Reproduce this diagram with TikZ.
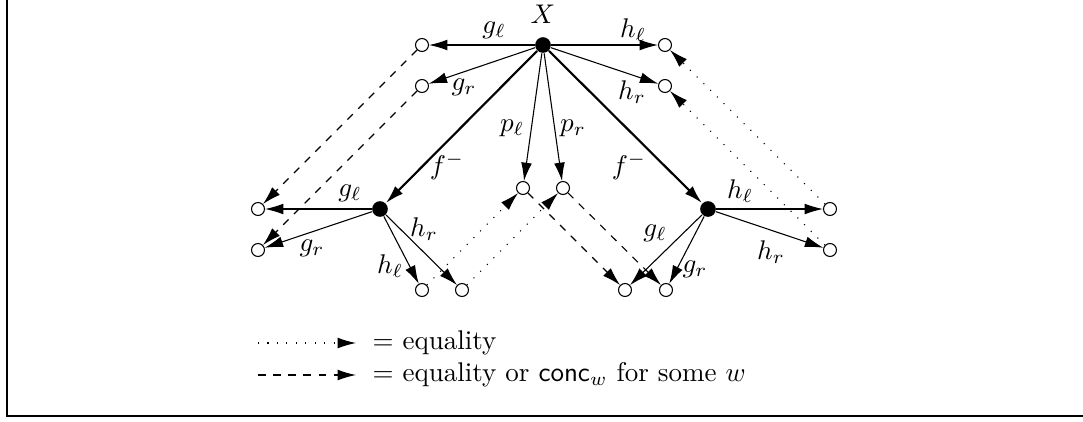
\documentclass[tikz,border=0pt]{standalone}
\usetikzlibrary{arrows.meta}
\begin{document}
\begin{tikzpicture}[x=0.37pt,y=-0.37pt,
  >={Latex[length=6.8pt,width=4pt]},
  opn/.style={circle,draw,line width=0.4pt,inner sep=0pt,minimum size=4.8pt},
  full/.style={circle,fill,inner sep=0pt,minimum size=5.8pt},
  arr/.style={->,line width=0.4pt},
  thk/.style={->,line width=0.8pt},
  eqarr/.style={->,line width=0.4pt,dash pattern=on 0.4pt off 3.1pt},
  dsharr/.style={->,line width=0.4pt,dash pattern=on 2.8pt off 2.8pt},
  lab/.style={inner sep=0pt}]
\useasboundingbox (0,0) rectangle (1083,421);
% frame
\draw[line width=0.75pt] (7,0) -- (7,416) -- (1083,416);
% nodes
\node[full] (X) at (543,45) {};
\node[lab] (Xl) at (543,14) {$X$};
\node[opn] (tl1) at (422,45) {};
\node[opn] (tl2) at (422,86) {};
\node[opn] (tr1) at (665,45) {};
\node[opn] (tr2) at (665,86) {};
\node[opn] (P1) at (523,188) {};
\node[opn] (P2) at (563,188) {};
\node[full] (L) at (380,209) {};
\node[opn] (L1) at (258,209) {};
\node[opn] (L2) at (258,250) {};
\node[opn] (L3) at (422,290) {};
\node[opn] (L4) at (462,290) {};
\node[full] (R) at (708,209) {};
\node[opn] (R1) at (830,209) {};
\node[opn] (R2) at (830,250) {};
\node[opn] (R3) at (625,290) {};
\node[opn] (R4) at (666,290) {};
% solid arrows from X
\draw[arr] (X) -- (tl1);
\draw[arr] (X) -- (tl2);
\draw[arr] (X) -- (tr1);
\draw[arr] (X) -- (tr2);
\draw[arr] (X) -- (P1);
\draw[arr] (X) -- (P2);
\draw[thk] (X) -- (L);
\draw[thk] (X) -- (R);
% left group
\draw[arr] (L) -- (L1);
\draw[arr] (L) -- (L2);
\draw[arr] (L) -- (L3);
\draw[arr] (L) -- (L4);
% right group
\draw[arr] (R) -- (R1);
\draw[arr] (R) -- (R2);
\draw[arr] (R) -- (R3);
\draw[arr] (R) -- (R4);
% dashed
\draw[dsharr] (tl1) -- (L1);
\draw[dsharr] (tl2) -- (L2);
\draw[dsharr] (P1) -- (R3);
\draw[dsharr] (P2) -- (R4);
% dotted
\draw[eqarr] (R1) -- (tr1);
\draw[eqarr] (R2) -- (tr2);
\draw[eqarr] (L3) -- (P1);
\draw[eqarr] (L4) -- (P2);
% labels
\node[lab] (a1) at (494,30) {$g_\ell$};
\node[lab] (a2) at (633,30) {$h_\ell$};
\node[lab] (a3) at (464,87) {$g_r$};
\node[lab] (a4) at (632,92) {$h_r$};
\node[lab] (a5) at (512,128) {$p_\ell$};
\node[lab] (a6) at (573,128) {$p_r$};
\node[lab] (a7) at (447,166) {$f^-$};
\node[lab] (a8) at (629,166) {$f^-$};
\node[lab] (b1) at (350,193) {$g_\ell$};
\node[lab] (b2) at (312,248) {$g_r$};
\node[lab] (b3) at (424,229) {$h_r$};
\node[lab] (b4) at (390,266) {$h_\ell$};
\node[lab] (c1) at (740,191) {$h_\ell$};
\node[lab] (c2) at (771,252) {$h_r$};
\node[lab] (c3) at (655,233) {$g_\ell$};
\node[lab] (c4) at (695,269) {$g_r$};
% legend
\coordinate (e1) at (258,343);
\coordinate (e2) at (356,343);
\coordinate (d1) at (258,375);
\coordinate (d2) at (356,375);
\draw[eqarr] (e1) -- (e2);
\draw[dsharr] (d1) -- (d2);
\node[anchor=west,inner sep=0pt] (t1) at (372,343) {$=$ equality};
\node[anchor=west,inner sep=0pt] (t2) at (372,375) {$=$ equality or $\mathsf{conc}_w$ for some $w$};
\end{tikzpicture}
\end{document}
